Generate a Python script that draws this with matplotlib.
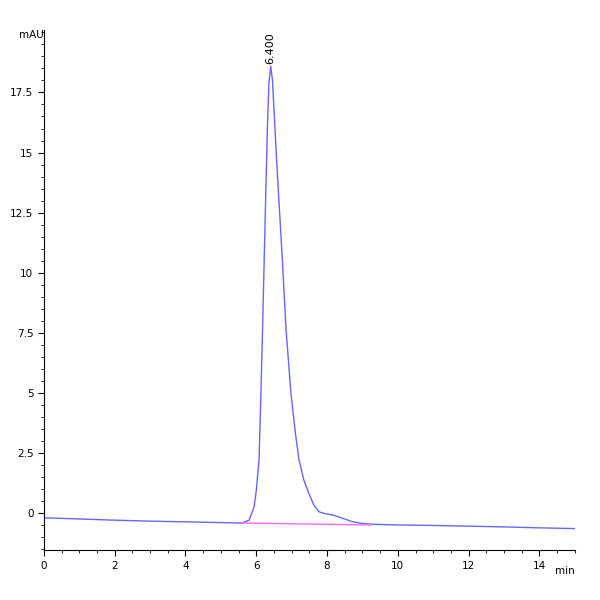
import matplotlib
matplotlib.use("Agg")
import matplotlib.pyplot as plt
from matplotlib.ticker import MultipleLocator

time_min = [0, 1, 2, 3, 4, 5, 5.6, 5.8, 5.94, 6.0, 6.08, 6.13, 6.18, 6.23, 6.27, 6.32, 6.36, 6.41,
            6.46, 6.52, 6.58, 6.63, 6.74, 6.84, 6.98, 7.1, 7.21, 7.35, 7.49, 7.62, 7.77, 7.95, 8.15,
            8.4, 8.71, 9.0, 9.3, 10, 11, 12, 13, 14, 15]
mau = [-0.2, -0.25, -0.3, -0.34, -0.37, -0.4, -0.42, -0.3, 0.25, 0.9, 2.2, 4.8, 7.7, 10.8, 13.3, 16.2, 17.9, 18.6,
       18.0, 16.3, 14.6, 13.3, 10.5, 7.7, 5.0, 3.4, 2.2, 1.35, 0.8, 0.35, 0.05, -0.03, -0.08,
       -0.2, -0.36, -0.44, -0.47, -0.5, -0.52, -0.55, -0.58, -0.62, -0.65]
baseline_x = [5.6, 9.25]
baseline_y = [-0.42, -0.5]
peak_label = "6.400"
peak_x, peak_y = 6.4, 18.6

fig = plt.figure(figsize=(6, 6), dpi=100)
ax = fig.add_axes([0.073, 0.083, 0.885, 0.867])
ax.plot(time_min, mau, color="#6666ff", lw=1)
ax.plot(baseline_x, baseline_y, color="#ff66ff", lw=1)
ax.text(peak_x, peak_y + 0.1, peak_label, rotation=90, ha="center", va="bottom", fontsize=8)
ax.set_xlim(0, 15)
ax.set_ylim(-1.55, 20.1)
ax.xaxis.set_major_locator(MultipleLocator(2))
ax.xaxis.set_minor_locator(MultipleLocator(0.5))
ax.yaxis.set_minor_locator(MultipleLocator(0.5))
ax.set_yticks([0, 2.5, 5, 7.5, 10, 12.5, 15, 17.5])
ax.set_yticklabels(["0", "2.5", "5", "7.5", "10", "12.5", "15", "17.5"])
for s in ["top", "right"]:
    ax.spines[s].set_visible(False)
ax.tick_params(labelsize=7.5, length=4)
ax.tick_params(which="minor", length=2)
ax.text(0, 1.0, "mAU", transform=ax.transAxes, ha="right", va="top", fontsize=7.5)
ax.text(1.0, -0.03, "min", transform=ax.transAxes, ha="right", va="top", fontsize=7.5)
fig.savefig("out.png")
